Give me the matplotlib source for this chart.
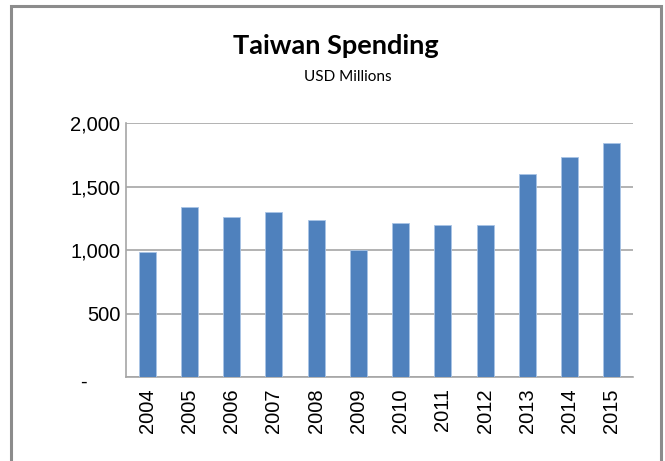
import matplotlib
matplotlib.use("Agg")
import matplotlib.pyplot as plt
from matplotlib.patches import Rectangle
from matplotlib.ticker import FuncFormatter

years = ["2004", "2005", "2006", "2007", "2008", "2009", "2010", "2011", "2012", "2013", "2014", "2015"]
spending = [982, 1336, 1257, 1297, 1236, 1000, 1215, 1194, 1194, 1598, 1730, 1840]
yticks = [0, 500, 1000, 1500, 2000]

W, H = 665, 461
fig = plt.figure(figsize=(W / 100, H / 100), dpi=100)
fig.patch.set_facecolor("white")

# outer chart frame
fig.patches.append(Rectangle((11 / W, -0.05), (661 - 11) / W, 1.05 - 6.5 / H,
                             transform=fig.transFigure, fill=False,
                             edgecolor="#8c8c8c", linewidth=2.2))

ax = fig.add_axes([126 / W, 1 - 377 / H, (633 - 126) / W, (377 - 123) / H])
x = list(range(len(years)))
ax.bar(x, spending, width=0.4, color="#4f81bd", edgecolor="#a9c4e6", linewidth=0.6, zorder=3)
ax.set_xlim(-0.5, len(years) - 0.5)
ax.set_ylim(0, 2000)
ax.set_yticks(yticks)
ax.yaxis.set_major_formatter(FuncFormatter(lambda v, p: "-" if v == 0 else f"{int(v):,}"))
ax.set_xticks(x)
ax.set_xticklabels(years, rotation=90)
ax.grid(axis="y", color="#a6a6a6", linewidth=1.2, zorder=0)
for s in ["top", "right"]:
    ax.spines[s].set_visible(False)
for s in ["left", "bottom"]:
    ax.spines[s].set_color("#a6a6a6")
    ax.spines[s].set_linewidth(1.2)
ax.tick_params(axis="both", length=0, labelsize=14.5, colors="black")
ax.tick_params(axis="y", pad=4)
ax.tick_params(axis="x", pad=8)
for lab in ax.get_xticklabels() + ax.get_yticklabels():
    lab.set_fontfamily("Liberation Sans")
# zero label "-" sits left of the others (accounting format)
ylabs = ax.get_yticklabels()
ylabs[0].set_horizontalalignment("center")
ax.figure.canvas.draw()
from matplotlib.transforms import ScaledTranslation
ylabs = ax.get_yticklabels()
ylabs[0].set_transform(ylabs[0].get_transform() + ScaledTranslation(-0.37, -0.03, fig.dpi_scale_trans))

fig.text(336 / W, 1 - 46 / H, "Taiwan Spending", ha="center", va="center",
         fontsize=19.5, fontweight="bold", family="Lato")
fig.text(348 / W, 1 - 77 / H, "USD Millions", ha="center", va="center",
         fontsize=11, family="Lato")

fig.savefig("out.png", dpi=100)
